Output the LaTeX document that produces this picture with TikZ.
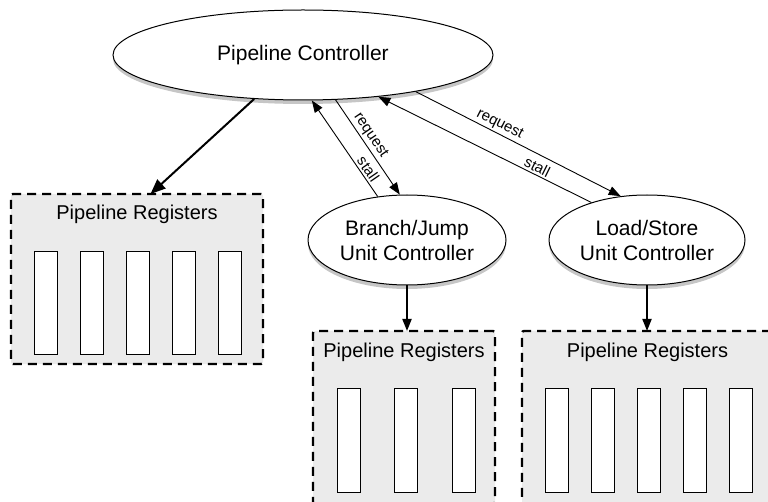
\documentclass[tikz,border=0pt]{standalone}
\usepackage{fontspec}
\setmainfont{Liberation Sans}
\definecolor{regfill}{RGB}{235, 235, 235}
\usetikzlibrary{arrows.meta, shapes.geometric, shadows, positioning}
\tikzset{
    ctrl/.style={ellipse, draw, line width=1pt, fill=white, inner sep=0pt,
        minimum height=90pt, align=center, font=\fontsize{21}{25}\selectfont,
        drop shadow={shadow xshift=0pt, shadow yshift=-4pt, opacity=.45}},
    regbox/.style={rectangle, draw, line width=2.4pt, dash pattern=on 9pt off 6pt,
        fill=regfill, rounded corners=2pt, inner sep=0pt, outer sep=0pt},
    regtitle/.style={font=\fontsize{20}{24}\selectfont, inner sep=0pt},
    reg/.style={draw, fill=white, line width=.8pt},
    sig/.style={-{Triangle[length=12pt, width=9pt]}, line width=.9pt},
    sigback/.style={{Triangle[length=12pt, width=9pt]}-, line width=.9pt},
    siglabel/.style={sloped, above, inner sep=2pt, font=\fontsize{15}{18}\selectfont},
}

\begin{document}
\begin{tikzpicture}[x=1pt, y=-1pt]
    \clip (0, 0) rectangle (768, 502);
    % controllers
    \node[ctrl, minimum width=380pt] (pc) at (303, 55) {Pipeline Controller};
    \node[ctrl, minimum width=198pt] (bj) at (407, 240) {Branch/Jump\\Unit Controller};
    \node[ctrl, minimum width=196pt] (ls) at (647, 240) {Load/Store\\Unit Controller};
    % register files
    \node[regbox, minimum width=252pt, minimum height=170pt] (lreg) at (137, 279) {};
    \node[regbox, minimum width=182pt, minimum height=173pt] (mreg) at (404, 417.5) {};
    \node[regbox, minimum width=251pt, minimum height=173pt] (rreg) at (647.5, 417.5) {};
    \node[regtitle, below=10.5pt of lreg.north] (ltitle) {Pipeline Registers};
    \node[regtitle, below=12pt of mreg.north] (mtitle) {Pipeline Registers};
    \node[regtitle, below=12pt of rreg.north] (rtitle) {Pipeline Registers};
    \foreach \i in {0, ..., 4} {
        \draw[reg] ([shift={(23+46*\i, 57)}]lreg.north west) rectangle +(23, 103);
        \draw[reg] ([shift={(23+46*\i, 57)}]rreg.north west) rectangle +(23, 104);
    }
    \foreach \i in {0, 1, 2}
        \draw[reg] ([shift={(24+57.5*\i, 57)}]mreg.north west) rectangle +(23, 104);
    % signals
    \draw[line width=2pt, -{Triangle[length=15pt, width=12pt]}] (pc.222) -- (lreg.81);
    \draw[sig] (pc.-54) -- (bj.99) node[siglabel, pos=.43] {request};
    \draw[sigback] (pc.-79) -- (bj.124) node[siglabel, pos=.76] {stall};
    \draw[sig] (pc.-18.4) -- (ls.121) node[siglabel, pos=.39] {request};
    \draw[sigback] (pc.-29.4) -- (ls.146) node[siglabel, pos=.73] {stall};
    \draw[sig, line width=1.8pt] (bj.south) -- (bj.south |- mreg.north);
    \draw[sig, line width=1.8pt] (ls.south) -- (ls.south |- rreg.north);
\end{tikzpicture}
\end{document}
